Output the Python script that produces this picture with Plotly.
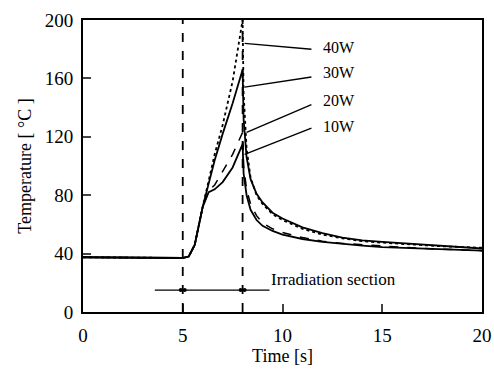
import plotly.graph_objects as go

time = [0, 1, 2, 3, 4, 5, 5.3, 5.6, 6.0, 6.3, 6.6, 7.0, 7.5, 8.0, 8.05, 8.2, 8.4, 8.7, 9, 9.5, 10, 11, 12, 13, 14, 15, 16, 17, 18, 19, 20]
temp_40w = [37.5, 37.5, 37, 37.5, 37, 37, 38, 46, 72, 90, 108, 128, 158, 200, 150, 112, 92, 80, 74, 67, 63, 57, 53, 50.5, 48.5, 47.5, 46.5, 45.5, 45, 44.5, 44]
temp_30w = [37.5, 37.5, 37, 37.5, 37, 37, 38, 46, 72, 88, 104, 122, 143, 166, 132, 106, 91, 81, 75, 68, 64, 58, 54, 51, 49, 48, 47, 46, 45, 44, 43.5]
temp_20w = [37.5, 37.5, 37, 37.5, 37, 37, 38, 46, 72, 83, 87, 96, 108, 123, 100, 84, 74, 66, 61, 57, 54.5, 51, 48.5, 47, 46, 45, 44, 43.5, 43, 42.5, 42]
temp_10w = [37.5, 37.5, 37, 37.5, 37, 37, 38, 46, 72, 82, 84, 89, 99, 115, 95, 80, 70, 63, 59, 55.5, 53, 50, 48, 46.5, 45.5, 44.5, 44, 43.5, 43, 42.5, 42]
series_names = ["40W", "30W", "20W", "10W"]
x_ticks = [0, 5, 10, 15, 20]
y_ticks = [0, 40, 80, 120, 160, 200]
irr_start, irr_end = 5, 8

fig = go.Figure()
styles = {"40W": ("dot", 1.8), "30W": ("solid", 1.8), "20W": ("dash", 1.5), "10W": ("solid", 1.8)}
for name, vals in zip(series_names, [temp_40w, temp_30w, temp_20w, temp_10w]):
    dash, w = styles[name]
    fig.add_trace(go.Scatter(x=time, y=vals, mode="lines", name=name,
                             line=dict(color="black", width=w, dash=dash), showlegend=False))

# vertical irradiation boundaries
for xv in [irr_start, irr_end]:
    fig.add_shape(type="line", x0=xv, x1=xv, y0=0, y1=200, xref="x", yref="y",
                  line=dict(color="black", width=1.8, dash="dash"))

# irradiation section bar
fig.add_trace(go.Scatter(x=[3.6, 9.35], y=[15, 15], mode="lines",
                         line=dict(color="black", width=1.3), showlegend=False))
fig.add_trace(go.Scatter(x=[irr_start - 0.1, irr_start + 0.1, irr_end - 0.1, irr_end + 0.1], y=[15, 15, 15, 15],
                         mode="markers", marker=dict(color="black", size=4), showlegend=False))
fig.add_annotation(x=9.3, y=22, text="Irradiation section", showarrow=False, xanchor="left",
                   font=dict(family="Liberation Serif", size=17, color="black"))

# label leader lines
leaders = [("40W", 8.1, 184, 180, 181), ("30W", 8.1, 154, 161, 164), ("20W", 8.2, 123, 142, 145), ("10W", 8.1, 108, 126, 127)]
for name, x0, y0, y1, ylab in leaders:
    fig.add_shape(type="line", x0=x0, x1=11.45, y0=y0, y1=y1, xref="x", yref="y",
                  line=dict(color="black", width=1.4))
    fig.add_annotation(x=11.95, y=ylab, text=name, showarrow=False, xanchor="left",
                       font=dict(family="Liberation Serif", size=16, color="black"))

axis_font = dict(family="Liberation Serif", size=19, color="black")
title_font = dict(family="Liberation Serif", size=18, color="black")
fig.update_layout(
    width=494, height=374,
    margin=dict(l=83, r=12, t=20, b=62),
    plot_bgcolor="white", paper_bgcolor="white",
    font=dict(family="Liberation Serif", color="black"),
)
fig.update_xaxes(range=[0, 20], tickvals=x_ticks, ticks="inside", ticklen=8, tickwidth=1.5,
                 showline=True, linecolor="black", linewidth=2, mirror=True, showgrid=False,
                 zeroline=False, tickfont=axis_font, automargin=False, ticklabelstandoff=5,
                 title=dict(text="Time [s]", font=title_font, standoff=3))
fig.update_yaxes(range=[0, 200], tickvals=y_ticks, ticks="inside", ticklen=8, tickwidth=1.5,
                 showline=True, linecolor="black", linewidth=2, mirror=True, showgrid=False,
                 zeroline=False, tickfont=axis_font, automargin=False, ticklabelstandoff=4,
                 title=dict(text="Temperature [ °C ]", font=title_font, standoff=8))

fig.write_html("out.html", config={"displayModeBar": False},
               post_script="document.body.style.margin='0px';")
